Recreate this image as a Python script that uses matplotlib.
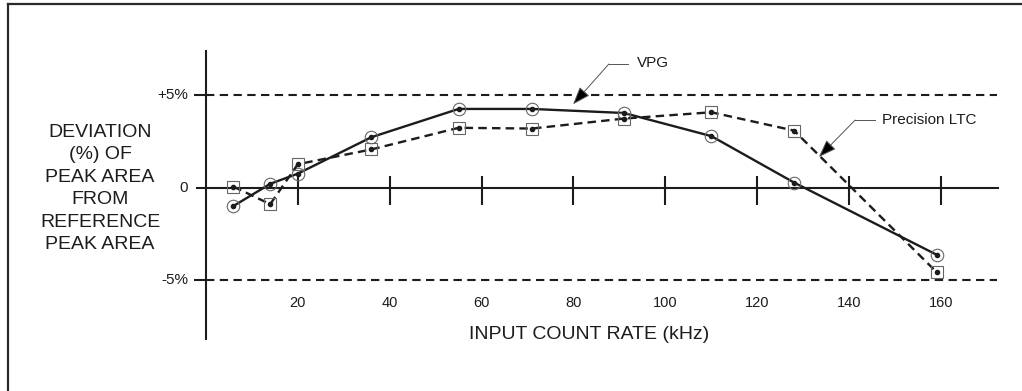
import matplotlib
matplotlib.use("Agg")
import matplotlib.pyplot as plt
from matplotlib.lines import Line2D

# values
rate_khz = [6, 14, 20, 36, 55, 71, 91, 110, 128, 159]
vpg_dev = [-1.0, 0.2, 0.75, 2.72, 4.25, 4.25, 4.03, 2.78, 0.27, -3.63]
ltc_dev = [0.05, -0.9, 1.26, 2.06, 3.23, 3.19, 3.73, 4.07, 3.08, -4.57]
x_ticks = [20, 40, 60, 80, 100, 120, 140, 160]
limit_levels = [5, -5]
y_levels = [5, 0, -5]
y_labels = ['+5%', '0', '-5%']

plt.rcParams['font.family'] = ['Liberation Sans', 'DejaVu Sans']
ink = '#1c1c1c'

fig = plt.figure(figsize=(10.22, 3.91), dpi=100)
ax = fig.add_axes([0, 0, 1, 1])
# whole figure is one data space: ~4.6 px per kHz, 18.5 px per %
ax.set_xlim(-44.8, 177.6)
ax.set_ylim(-11.0, 10.14)
ax.axis('off')

# outer frame (top and left edge only)
fig.add_artist(Line2D([0.0078, 1.0], [0.99, 0.99], transform=fig.transFigure, color='#2a2a2a', lw=1.6))
fig.add_artist(Line2D([0.0078, 0.0078], [0.0, 0.99], transform=fig.transFigure, color='#2a2a2a', lw=1.6))

# axes drawn by hand
ax.plot([0, 0], [7.38, -8.19], color=ink, lw=1.5)
ax.plot([-1.9, 172.4], [0, 0], color=ink, lw=1.5)
ax.vlines(x_ticks, -0.95, 0.6, color=ink, lw=1.5)
ax.hlines(limit_levels, -2.5, 0, color=ink, lw=1.5)
ax.hlines(limit_levels, 0, 172.2, color=ink, lw=1.5, linestyles=[(0, (4, 2.6))])

for lev, lab in zip(y_levels, y_labels):
    ax.text(-3.9, lev, lab, ha='right', va='center', fontsize=11, color=ink)
for t in x_ticks:
    ax.text(t, -6.24, str(t), ha='center', va='center', fontsize=10.5, color=ink)

ax.text(-23.0, -0.05, 'DEVIATION\n(%) OF\nPEAK AREA\nFROM\nREFERENCE\nPEAK AREA',
        ha='center', va='center', fontsize=14, linespacing=1.42, color=ink)
ax.text(83.5, -7.92, 'INPUT COUNT RATE (kHz)', ha='center', va='center', fontsize=14, color=ink)

# data series
ax.plot(rate_khz, vpg_dev, color=ink, lw=1.7, marker='o', ms=9, mfc='none', mec='#666666', mew=0.8)
ax.plot(rate_khz, ltc_dev, color=ink, lw=1.7, ls=(0, (3.6, 2.2)), marker='s', ms=8, mfc='none', mec='#666666', mew=0.8)
ax.plot(rate_khz, vpg_dev, ls='none', marker='o', ms=3, color=ink)
ax.plot(rate_khz, ltc_dev, ls='none', marker='o', ms=3, color=ink)

# call-outs
arrow = dict(arrowstyle='-|>,head_length=0.55,head_width=0.2', mutation_scale=20,
             color='#555555', fc='black', lw=0.7, shrinkA=0, shrinkB=0)
ax.annotate('', xy=(79.9, 4.5), xytext=(87.7, 6.68), arrowprops=arrow)
ax.plot([87.7, 91.9], [6.68, 6.68], color='#555555', lw=0.7)
ax.text(93.9, 6.73, 'VPG', ha='left', va='center', fontsize=11, color=ink)

ax.annotate('', xy=(133.4, 1.65), xytext=(141.3, 3.65), arrowprops=arrow)
ax.plot([141.3, 145.6], [3.65, 3.65], color='#555555', lw=0.7)
ax.text(147.2, 3.65, 'Precision LTC', ha='left', va='center', fontsize=11, color=ink)

fig.savefig('out.png', dpi=100)
